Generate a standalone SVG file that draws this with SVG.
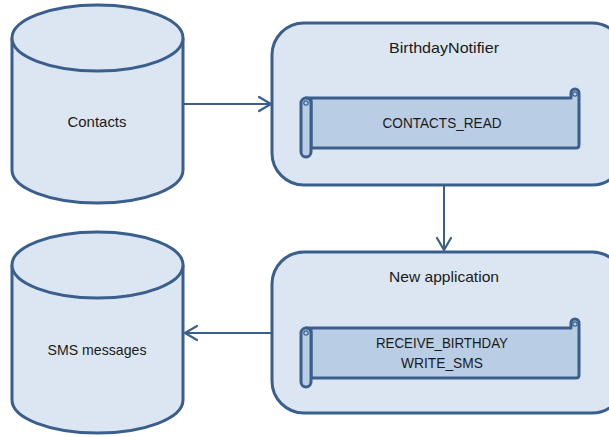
<svg xmlns="http://www.w3.org/2000/svg" width="609" height="437" viewBox="0 0 609 437">
  <style>
    .shape { fill: #DCE6F2; stroke: #3A5F8D; stroke-width: 3; }
    .scroll { fill: #B9CDE5; stroke: #3A5F8D; stroke-width: 3; stroke-linejoin: round; }
    .curl { fill: none; stroke: #3A5F8D; stroke-width: 1.2; }
    .conn { fill: none; stroke: #3A5F8D; stroke-width: 2; }
    text { font-family: "Liberation Sans", Arial, sans-serif; font-size: 15px; fill: #1A1A1A; text-anchor: middle; }
  </style>
  <defs>
    <marker id="open-arrow" markerUnits="userSpaceOnUse" markerWidth="16" markerHeight="18" viewBox="-14 -9 16 18" refX="0" refY="0" orient="auto">
      <path d="M -12,-7 L 0,0 L -12,7" fill="none" stroke="#3A5F8D" stroke-width="2.2" stroke-linecap="round" stroke-linejoin="round"/>
    </marker>
    <!-- horizontal scroll banner, local origin at its top-left corner -->
    <g id="scroll-shape">
      <path class="scroll" d="M 5,10 H 270 V 5 A 4,4 0 0 1 278,5 V 57 Q 278,60 275,60 H 10 V 10 Z"/>
      <rect class="scroll" x="0" y="10" width="10" height="59" rx="5"/>
      <circle class="curl" cx="5" cy="15" r="2.2"/>
      <circle class="curl" cx="274" cy="6" r="2.2"/>
    </g>
  </defs>

  <g id="connectors">
    <line class="conn" x1="184" y1="104" x2="271" y2="104" marker-end="url(#open-arrow)"/>
    <line class="conn" x1="444" y1="186" x2="444" y2="250" marker-end="url(#open-arrow)"/>
    <line class="conn" x1="272" y1="333" x2="185" y2="333" marker-end="url(#open-arrow)"/>
  </g>

  <g id="contacts">
    <path class="shape" d="M 12,38 V 170 A 85.5,33 0 0 0 183,170 V 38"/>
    <ellipse class="shape" cx="97.5" cy="38" rx="85.5" ry="33"/>
    <text x="97" y="127" textLength="59" lengthAdjust="spacingAndGlyphs">Contacts</text>
  </g>

  <g id="sms-messages">
    <path class="shape" d="M 12,265 V 400 A 85.5,33 0 0 0 183,400 V 265"/>
    <ellipse class="shape" cx="97.5" cy="265" rx="85.5" ry="33"/>
    <text x="97" y="355" textLength="99" lengthAdjust="spacingAndGlyphs">SMS messages</text>
  </g>

  <g id="birthday-notifier">
    <rect class="shape" x="272" y="23" width="352" height="162" rx="32"/>
    <text x="444" y="53" textLength="110" lengthAdjust="spacingAndGlyphs">BirthdayNotifier</text>
    <use href="#scroll-shape" x="301" y="88"/>
    <text x="442" y="128" textLength="119" lengthAdjust="spacingAndGlyphs">CONTACTS_READ</text>
  </g>

  <g id="new-application">
    <rect class="shape" x="272" y="252" width="352" height="161" rx="32"/>
    <text x="444" y="282" textLength="110" lengthAdjust="spacingAndGlyphs">New application</text>
    <use href="#scroll-shape" x="301" y="318"/>
    <text x="442" y="348" textLength="132" lengthAdjust="spacingAndGlyphs">RECEIVE_BIRTHDAY</text>
    <text x="442" y="368" textLength="82" lengthAdjust="spacingAndGlyphs">WRITE_SMS</text>
  </g>
</svg>
